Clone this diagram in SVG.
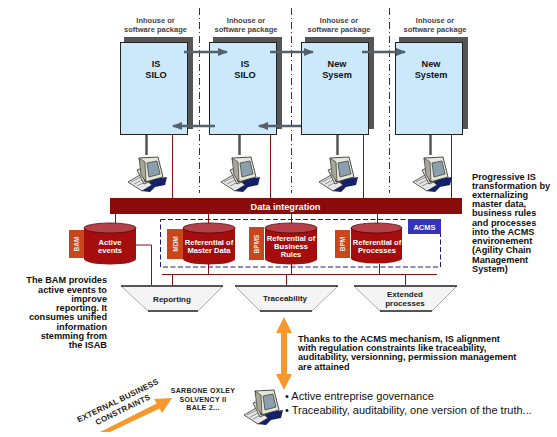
<svg xmlns="http://www.w3.org/2000/svg" width="557" height="437" viewBox="0 0 557 437">
<style>
text{font-family:"Liberation Sans",Arial,sans-serif}
.sh{fill:#555}
.fr{fill:#cce9fb;stroke:#222;stroke-width:1}
.pk{font-size:7.5px;fill:#444;text-anchor:middle;font-weight:bold}
.ti{font-size:9.2px;font-weight:bold;fill:#111;text-anchor:middle}
.da{stroke:#2a2a90;stroke-width:1;stroke-dasharray:7 3 1 3;fill:none}
.ga{stroke:#56606a;stroke-width:2.5;fill:none}
.st{stroke:#555;stroke-width:2.5;fill:none}
.rd{stroke:#8b0f0f;stroke-width:1;fill:none}
.cb{fill:#a50c0c}
.ct{fill:#b5404a;stroke:#5a0505;stroke-width:.8}
.cx{fill:#fff;font-size:7.6px;font-weight:bold;text-anchor:middle}
.lb{fill:#c9451a}
.lt{fill:#eee;font-size:6.5px;font-weight:bold;text-anchor:middle}
.tr{fill:#f4f4f4}
.te{stroke:#555;stroke-width:1.8;fill:none}
.tl{stroke:#999;stroke-width:.8;fill:none}
.tt{font-size:8px;font-weight:bold;fill:#222;text-anchor:middle}
.bk{font-size:9.2px;font-weight:bold;fill:#111}
.or{fill:#f7982f}
.bu{font-size:11px;fill:#111}
</style>
<defs>
<marker id="ah" markerUnits="userSpaceOnUse" markerWidth="10" markerHeight="8" refX="9" refY="4" orient="auto"><path d="M0 0L10 4L0 8Z" fill="#56606a"/></marker>
<symbol id="pc" viewBox="0 0 40 37" width="40" height="37" overflow="visible">
<path d="M20 25L40 22L38 30L28 32L23 37L14 36Z" fill="#14206a"/>
<path d="M1 27L13 20L25 30L15 36Z" fill="#e8e8e8" stroke="#333" stroke-width=".8"/>
<path d="M4 27L14 22M7 29L17 24M10 31L20 26" stroke="#777" stroke-width=".8"/>
<path d="M10 15L26 9L33 22L17 29Z" fill="#d8d8c8" stroke="#333" stroke-width=".8"/>
<path d="M12 3L31 2L36 22L18 27Z" fill="#e6e6d8" stroke="#222" stroke-width=".8"/>
<path d="M12 3L18 7L19 27L14 20Z" fill="#a8a89a" stroke="#222" stroke-width=".6"/>
<path d="M20 8L30 6L33 19L22 22Z" fill="#8ba0ae" stroke="#333" stroke-width=".7"/>
</symbol>
</defs>
<rect width="557" height="437" fill="#fff"/>

<g id="dividers">
<path class="da" d="M199.500 8V193"/>
<path class="da" d="M291.500 8V193"/>
<path class="da" d="M389.500 8V193"/>
</g>

<g id="silo1">
<text class="pk" x="155.500" y="23">Inhouse or<tspan x="155.500" y="32">software package</tspan></text>
<rect class="sh" x="124" y="37" width="69" height="92"/>
<rect class="fr" x="120.500" y="42.500" width="67" height="92"/>
<text class="ti" x="156" y="67">IS<tspan x="156" y="78">SILO</tspan></text>
</g>
<g id="silo2">
<text class="pk" x="246" y="23">Inhouse or<tspan x="246" y="32">software package</tspan></text>
<rect class="sh" x="213" y="37" width="69" height="92"/>
<rect class="fr" x="209.500" y="42.500" width="67" height="92"/>
<text class="ti" x="245" y="67">IS<tspan x="245" y="78">SILO</tspan></text>
</g>
<g id="silo3">
<text class="pk" x="339" y="23">Inhouse or<tspan x="339" y="32">software package</tspan></text>
<rect class="sh" x="305" y="37" width="69" height="92"/>
<rect class="fr" x="301.500" y="42.500" width="67" height="92"/>
<text class="ti" x="337" y="67">New<tspan x="337" y="78">Sysem</tspan></text>
</g>
<g id="silo4">
<text class="pk" x="435" y="23">Inhouse or<tspan x="435" y="32">software package</tspan></text>
<rect class="sh" x="399" y="37" width="69" height="92"/>
<rect class="fr" x="395.500" y="42.500" width="67" height="92"/>
<text class="ti" x="431" y="67">New<tspan x="431" y="78">System</tspan></text>
</g>

<g id="computers">
<use href="#pc" x="127" y="155"/>
<use href="#pc" x="220" y="155"/>
<use href="#pc" x="318" y="155"/>
<use href="#pc" x="412" y="155"/>
<use href="#pc" x="243" y="388"/>
</g>

<g id="connectors">
<path class="ga" marker-end="url(#ah)" d="M184 52H227"/>
<path class="ga" marker-end="url(#ah)" d="M270 52H313"/>
<path class="ga" marker-end="url(#ah)" d="M362 52H405"/>
<path class="ga" marker-end="url(#ah)" d="M215 126H173"/>
<path class="ga" marker-end="url(#ah)" d="M301 126H259"/>
<path class="st" d="M146.500 135V155M239.500 135V155M337.500 135V155M430.500 135V155"/>
<path class="rd" d="M172.500 135V198M270.500 135V198M363.500 135V198M451.500 135V198"/>
<path class="rd" d="M115.500 214V224M208.500 214V224M291.500 214V224M377.500 214V224"/>
<path class="rd" d="M136 245H151.500V286"/>
<path class="rd" d="M162 274.500H437"/>
<path class="rd" d="M208.500 264V274M291.500 264V274M379.500 264V274"/>
<path class="rd" d="M172.500 274V286M286.500 274V286M405.500 274V286"/>
<path class="or" d="M284 317L292 333H287V374H292L284 390L276 374H281V333H276Z"/>
<path class="or" d="M100 432L156.600 403.400L154.100 399.100L172 398L162.100 412.900L159.600 408.600L110 432Z"/>
</g>

<g id="data-integration">
<rect x="110" y="198" width="352" height="16" fill="#8b0a0a"/>
<text x="285.500" y="210" font-size="9.200" font-weight="bold" fill="#fff" text-anchor="middle">Data integration</text>
</g>

<g id="acms">
<rect x="160.500" y="219.500" width="280" height="47.500" fill="none" stroke="#1a1a7a" stroke-width="1" stroke-dasharray="5 2.500"/>
<rect x="408" y="219" width="33" height="15" fill="#3333bb"/>
<text x="424.500" y="230" font-size="7.500" font-weight="bold" fill="#fff" text-anchor="middle">ACMS</text>
</g>

<g id="active-events">
<rect class="lb" x="69" y="230" width="15" height="28"/>
<text class="lt" transform="translate(79 244) rotate(-90)">BAM</text>
<path class="cb" d="M84 228V259A26 5.500 0 0 0 136 259V228Z"/>
<ellipse class="ct" cx="110" cy="228" rx="26" ry="5"/>
<text class="cx" x="110" y="245">Active<tspan x="110" y="252.500">events</tspan></text>
</g>
<g id="master-data">
<rect class="lb" x="167" y="229" width="16" height="30"/>
<text class="lt" transform="translate(178 244) rotate(-90)">MDM</text>
<path class="cb" d="M183 228V259A26 5.500 0 0 0 235 259V228Z"/>
<ellipse class="ct" cx="209" cy="228" rx="26" ry="5"/>
<text class="cx" x="209" y="245">Referential of<tspan x="209" y="252.500">Master Data</tspan></text>
</g>
<g id="business-rules">
<rect class="lb" x="249" y="227" width="15" height="33"/>
<text class="lt" transform="translate(259 244) rotate(-90)">BPMS</text>
<path class="cb" d="M265 228V259A26 5.500 0 0 0 317 259V228Z"/>
<ellipse class="ct" cx="291" cy="228" rx="26" ry="5"/>
<text class="cx" x="291" y="241">Referential of<tspan x="291" y="249">Business</tspan><tspan x="291" y="256.500">Rules</tspan></text>
</g>
<g id="processes">
<rect class="lb" x="335" y="230" width="15" height="28"/>
<text class="lt" transform="translate(345 244) rotate(-90)">BPM</text>
<path class="cb" d="M351 228V259A26 5.500 0 0 0 402 259V228Z"/>
<ellipse class="ct" cx="376.500" cy="228" rx="25.500" ry="5"/>
<text class="cx" x="377" y="245">Referential of<tspan x="377" y="252.500">Processes</tspan></text>
</g>

<g id="reporting">
<path class="tr" d="M121 286H223L198 311H148Z"/>
<path class="tl" d="M121 286L148 311M223 286L198 311"/>
<path class="te" d="M121 286H223M148 311H198"/>
<text class="tt" x="172" y="302">Reporting</text>
</g>
<g id="traceability">
<path class="tr" d="M235 286H338L312 311H260Z"/>
<path class="tl" d="M235 286L260 311M338 286L312 311"/>
<path class="te" d="M235 286H338M260 311H312"/>
<text class="tt" x="285" y="301">Traceability</text>
</g>
<g id="extended">
<path class="tr" d="M354 286H457L432 311H380Z"/>
<path class="tl" d="M354 286L380 311M457 286L432 311"/>
<path class="te" d="M354 286H457M380 311H432"/>
<text class="tt" x="405" y="297">Extended<tspan x="405" y="306">processes</tspan></text>
</g>

<g id="bam-note">
<text class="bk" text-anchor="end" x="107" y="283">The BAM provides<tspan x="107" y="292.500">active events to</tspan><tspan x="107" y="301.500">improve</tspan><tspan x="107" y="311">reporting. It</tspan><tspan x="107" y="320">consumes unified</tspan><tspan x="107" y="329.500">information</tspan><tspan x="107" y="339">stemming from</tspan><tspan x="107" y="348">the ISAB</tspan></text>
</g>
<g id="transformation-note">
<text class="bk" x="472" y="180">Progressive IS<tspan x="472" y="189">transformation by</tspan><tspan x="472" y="198">externalizing</tspan><tspan x="472" y="207">master data,</tspan><tspan x="472" y="216">business rules</tspan><tspan x="472" y="225.500">and processes</tspan><tspan x="472" y="235">into the ACMS</tspan><tspan x="472" y="244">environement</tspan><tspan x="472" y="253">(Agility Chain</tspan><tspan x="472" y="262.500">Management</tspan><tspan x="472" y="272">System)</tspan></text>
</g>
<g id="alignment-note">
<text class="bk" x="298" y="342">Thanks to the ACMS mechanism, IS alignment<tspan x="298" y="351">with regulation constraints like traceability,</tspan><tspan x="298" y="360">auditability, versionning, permission management</tspan><tspan x="298" y="370">are attained</tspan></text>
</g>
<g id="governance">
<text class="bu" x="285" y="400">• Active entreprise governance</text>
<text class="bu" x="285" y="414">• Traceability, auditability, one version of the truth...</text>
</g>
<g id="regulations">
<text font-size="7" font-weight="bold" fill="#222" text-anchor="middle" letter-spacing=".3" x="203" y="393">SARBONE OXLEY<tspan x="203" y="402">SOLVENCY II</tspan><tspan x="203" y="410">BALE 2...</tspan></text>
</g>
<g id="external" font-size="8" font-weight="bold" fill="#222" text-anchor="middle" letter-spacing=".2">
<text transform="translate(119 403) rotate(-26)">EXTERNAL BUSINESS</text>
<text transform="translate(124 412) rotate(-26)">CONSTRAINTS</text>
</g>
</svg>
